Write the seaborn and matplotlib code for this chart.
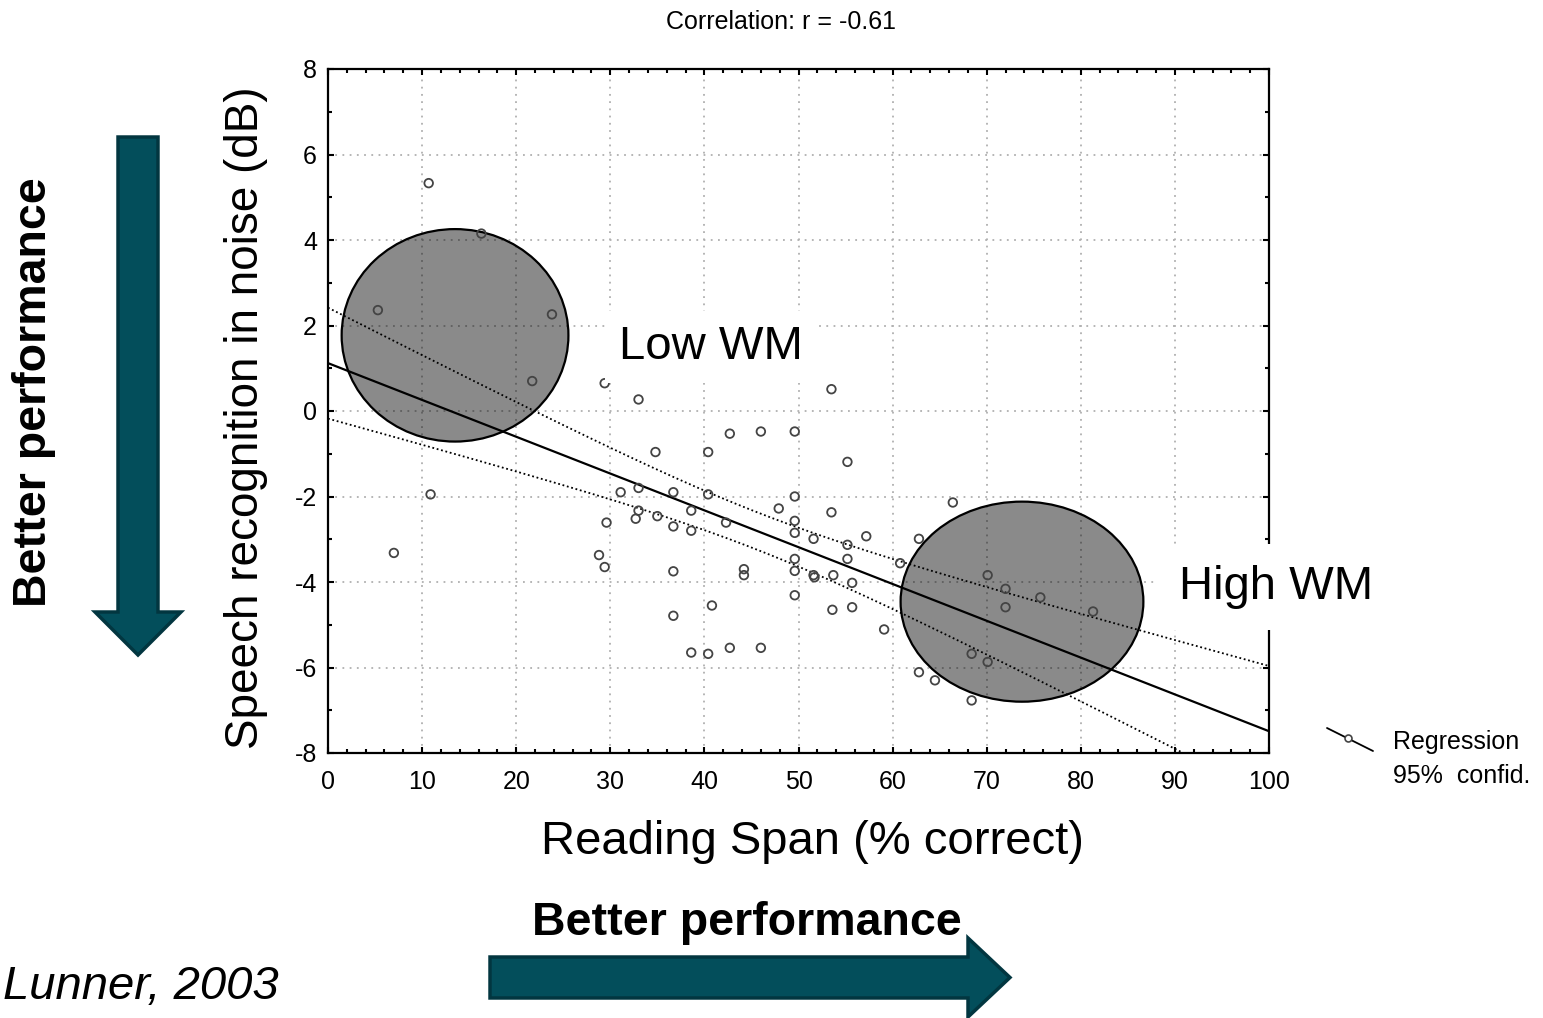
import numpy as np
import pandas as pd
import matplotlib
matplotlib.use("Agg")
import matplotlib.pyplot as plt
import seaborn as sns
from matplotlib.patches import Ellipse, Polygon
from matplotlib.lines import Line2D
from matplotlib.ticker import MultipleLocator

# ---- data ----
reading_span = [10.7, 16.3, 5.3, 23.8, 21.7, 29.4, 10.9, 7.0, 31.1, 29.6,
                28.8, 29.4, 33.0, 53.5, 42.7, 46.0, 49.6, 34.8, 40.4, 55.2,
                33.0, 36.7, 40.4, 49.6, 47.9, 53.5, 38.6, 33.0, 32.7, 35.0,
                36.7, 38.6, 42.3, 49.6, 49.6, 51.6, 57.2, 55.2, 55.2, 49.6,
                36.7, 44.2, 44.2, 49.6, 51.6, 51.7, 53.7, 55.7, 60.8, 49.6,
                40.8, 53.6, 55.7, 36.7, 59.1, 38.6, 40.4, 42.7, 46.0, 66.4,
                62.8, 70.1, 72.0, 72.0, 75.7, 81.3, 68.4, 70.1, 62.8, 64.5,
                68.4]
speech_srt = [5.33, 4.15, 2.36, 2.26, 0.70, 0.65, -1.95, -3.32, -1.90, -2.61,
              -3.37, -3.65, 0.27, 0.51, -0.53, -0.48, -0.48, -0.96, -0.96, -1.19,
              -1.80, -1.90, -1.95, -2.00, -2.28, -2.37, -2.33, -2.33, -2.52, -2.46,
              -2.70, -2.80, -2.61, -2.57, -2.85, -2.99, -2.93, -3.13, -3.46, -3.46,
              -3.75, -3.70, -3.84, -3.74, -3.84, -3.89, -3.84, -4.02, -3.56, -4.31,
              -4.55, -4.65, -4.59, -4.79, -5.11, -5.65, -5.68, -5.54, -5.54, -2.14,
              -2.99, -3.84, -4.16, -4.59, -4.36, -4.69, -5.68, -5.87, -6.11, -6.30,
              -6.77]
x_ticks = list(range(0, 101, 10))
y_ticks = list(range(-8, 9, 2))
group_labels = ["Low WM", "High WM"]
group_centers = [(13.5, 1.77), (73.75, -4.46)]
group_sizes = [(24.1, 4.97), (25.8, 4.68)]
title_text = "Correlation: r = -0.61"
legend_labels = ["Regression", "95%  confid."]

W, H = 1543, 1018
sns.set_style("ticks")
plt.rcParams["font.family"] = ["Liberation Sans", "DejaVu Sans"]
plt.rcParams["axes.unicode_minus"] = False
plt.rcParams["text.color"] = "black"
plt.rcParams["axes.labelcolor"] = "black"
plt.rcParams["xtick.color"] = "black"
plt.rcParams["ytick.color"] = "black"

fig = plt.figure(figsize=(W / 100, H / 100), dpi=100)
ax = fig.add_axes([328 / W, 1 - 753 / H, (1269 - 328) / W, (753 - 69) / H])

def fx(px):
    return px / W

def fy(py):
    return 1 - py / H

df = pd.DataFrame({"span": reading_span, "srt": speech_srt})

# regression and 95% confidence band for the mean
x = np.asarray(reading_span)
y = np.asarray(speech_srt)
slope, intercept = np.polyfit(x, y, 1)
n = len(x)
resid = y - (intercept + slope * x)
s = np.sqrt(np.sum(resid ** 2) / (n - 2))
xbar = x.mean()
sxx = np.sum((x - xbar) ** 2)
t_crit = 1.995
xs = np.linspace(0, 100, 300)
yhat = intercept + slope * xs
half = t_crit * s * np.sqrt(1 / n + (xs - xbar) ** 2 / sxx)

ax.set_xlim(0, 100)
ax.set_ylim(-8, 8)

# ellipses (group highlights)
for (cx, cy), (w, h) in zip(group_centers, group_sizes):
    ax.add_patch(Ellipse((cx, cy), w, h, facecolor=(0, 0, 0, 0.46),
                         edgecolor="black", lw=1.6, zorder=2))

ax.plot(xs, yhat, color="black", lw=1.6, zorder=3)
ax.plot(xs, yhat + half, color="black", lw=1.3, ls=(0, (1, 1.5)), zorder=3)
ax.plot(xs, yhat - half, color="black", lw=1.3, ls=(0, (1, 1.5)), zorder=3)

sns.scatterplot(data=df, x="span", y="srt", ax=ax, marker="o", s=38,
                facecolors="none", edgecolor="#444444", linewidth=1.3,
                zorder=4, legend=False)

ax.set_xticks(x_ticks)
ax.set_yticks(y_ticks)
ax.xaxis.set_minor_locator(MultipleLocator(2))
ax.yaxis.set_minor_locator(MultipleLocator(1))
ax.tick_params(which="both", direction="in", top=True, right=True,
               width=1.5, color="black")
ax.tick_params(which="major", length=4, labelsize=18, pad=8)
ax.tick_params(which="minor", length=3)
ax.tick_params(axis="x", which="major", pad=12)
ax.set_axisbelow(True)
ax.grid(True, which="major", ls=(0, (1, 3)), color="#b0b0b0", lw=1.3)
for sp in ax.spines.values():
    sp.set_visible(True)
    sp.set_linewidth(1.6)
    sp.set_color("black")

ax.set_xlabel("Reading Span (% correct)", fontsize=34)
ax.xaxis.set_label_coords((812 - 328) / 941, -0.098)
ax.set_ylabel("Speech recognition in noise (dB)", fontsize=33)
ax.yaxis.label.set_va("center")
ax.yaxis.set_label_coords((246 - 328) / 941, (753 - 418) / 684)

# group labels with white boxes
ax.annotate(group_labels[0], xy=(fx(711), fy(347)), xycoords="figure fraction",
            ha="center", va="center", fontsize=34, zorder=6,
            bbox=dict(facecolor="white", edgecolor="none",
                      boxstyle="square,pad=0.3"))
ax.annotate(group_labels[1], xy=(fx(1276), fy(587)), xycoords="figure fraction",
            ha="center", va="center", fontsize=34, zorder=6,
            annotation_clip=False,
            bbox=dict(facecolor="white", edgecolor="none",
                      boxstyle="square,pad=0.45"))

fig.text(fx(781), fy(22), title_text, ha="center", va="center", fontsize=18)

# legend drawn in figure space
fig.add_artist(Line2D([fx(1327), fx(1373)], [fy(728), fy(751)],
                      color="black", lw=1.3))
fig.add_artist(Line2D([fx(1348)], [fy(737.5)], marker="o", markersize=5,
                      markerfacecolor="white", markeredgecolor="#444444",
                      markeredgewidth=1.2))
fig.text(fx(1393), fy(742), legend_labels[0], ha="left", va="center", fontsize=18)
fig.text(fx(1393), fy(776), legend_labels[1], ha="left", va="center", fontsize=18)

# performance arrows
arrow_face = "#034e5b"
arrow_edge = "#023640"
v_pts = [(118, 137), (158, 137), (158, 612), (181, 612), (138, 655),
         (95, 612), (118, 612)]
h_pts = [(490, 957), (968, 957), (968, 938), (1010, 977.5), (968, 1017),
         (968, 998), (490, 998)]
for pts in (v_pts, h_pts):
    fig.add_artist(Polygon([(fx(a), fy(b)) for a, b in pts], closed=True,
                           facecolor=arrow_face, edgecolor=arrow_edge, lw=2.5,
                           transform=fig.transFigure))

fig.text(fx(34), fy(392), "Better performance", rotation=90, ha="center",
         va="center", fontsize=33.5, fontweight="bold")
fig.text(fx(747), fy(923), "Better performance", ha="center", va="center",
         fontsize=33.5, fontweight="bold")
fig.text(fx(3), fy(987), "Lunner, 2003", ha="left", va="center", fontsize=34,
         fontstyle="italic")

fig.savefig("out.png", dpi=100)
